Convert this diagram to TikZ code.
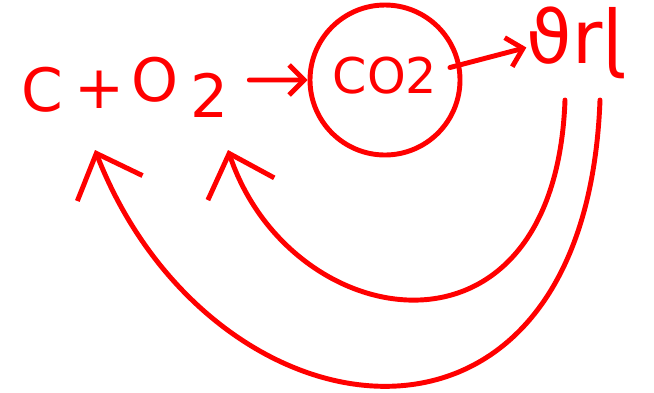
\documentclass[tikz,border=0pt]{standalone}
\usepackage{fontspec}
\setmainfont{DejaVu Sans}
\usetikzlibrary{arrows.meta}
\definecolor{pen}{RGB}{255,0,0}
\begin{document}
\begin{tikzpicture}[every node/.style={font=\fontsize{34}{34}\selectfont, text=pen, inner sep=0pt},
  arr/.style={draw=pen, line width=2.8pt, line cap=round, -{Straight Barb[length=0.3cm, width=0.6cm, line width=2.8pt]}},
  back/.style={draw=pen, line width=2.8pt, line cap=round, -{Straight Barb[length=0.75cm, width=1.4cm, line width=2.8pt]}}]
  \useasboundingbox (0,0) rectangle (13.08,-7.84);

  % reactants
  \node (c) at (0.84,-1.8) {C};
  \node (plus) at (2,-1.8) {+};
  \node (o) at (3.1,-1.6) {O};
  \node (two) at (4.2,-1.9) {2};

  % product in a ring
  \node[draw=pen, line width=2.8pt, circle, minimum size=3cm, font=\fontsize{28}{28}\selectfont] (co2) at (7.7,-1.6) {\raisebox{5pt}{CO2}};

  % where it goes
  \node[font=\fontsize{42}{42}\selectfont] (word) at (11.5,-0.85) {ϑrɭ};

  % forward arrows
  \draw[arr] ([shift={(0.4,0.3)}]two.east) -- (co2.west);
  \draw[arr] ([shift={(-0.25,0.25)}]co2.east) -- ([yshift=-0.1cm]word.west);

  % back to the reactants
  \draw[back] ([shift={(-0.2,-1.15)}]word.center) .. controls (11.1,-7.6) and (5.8,-6.7) .. ([shift={(0.36,-1.1)}]two.center);
  \draw[back] ([shift={(0.5,-1.15)}]word.center) .. controls (11.7,-10) and (4.2,-8.9) .. ([shift={(-0.1,-1.2)}]plus.center);
\end{tikzpicture}
\end{document}
